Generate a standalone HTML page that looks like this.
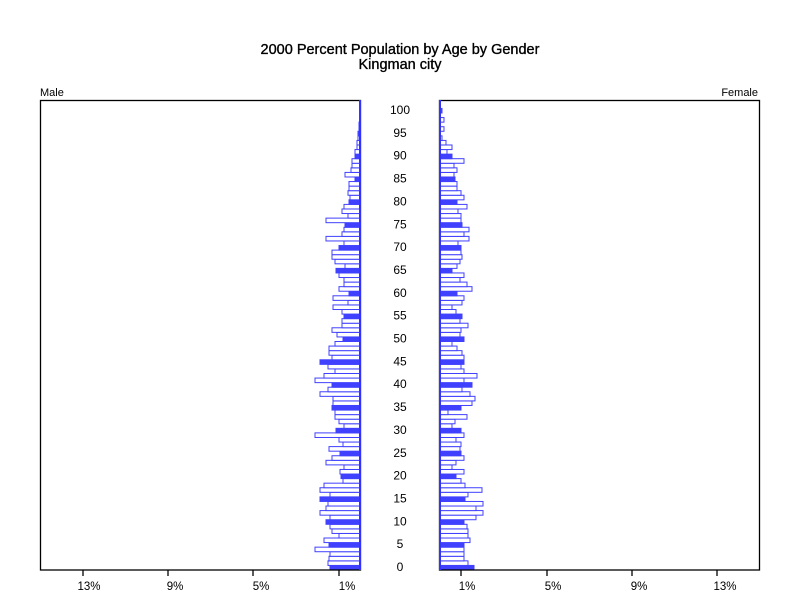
<!DOCTYPE html>
<html><head><meta charset="utf-8"><style>
html,body{margin:0;padding:0;background:#fff;}
svg{display:block;font-family:"Liberation Sans",sans-serif;}
</style></head><body>
<svg id="s" width="800" height="600" viewBox="0 0 800 600" xmlns="http://www.w3.org/2000/svg">
<rect width="800" height="600" fill="#fff"/>
<text x="400" y="54" text-anchor="middle" font-size="14.5" stroke="#000" stroke-width="0.35">2000 Percent Population by Age by Gender</text>
<text x="400" y="69" text-anchor="middle" font-size="14.5" stroke="#000" stroke-width="0.35">Kingman city</text>
<text x="40" y="96" font-size="11">Male</text>
<text x="758" y="96" text-anchor="end" font-size="11">Female</text>
<g id="bars"></g>
<rect x="40.5" y="100.5" width="320" height="469.5" fill="none" stroke="#000" stroke-width="1.3"/>
<rect x="439.5" y="100.5" width="320" height="469.5" fill="none" stroke="#000" stroke-width="1.3"/>
<line x1="360" y1="100" x2="360" y2="570" stroke="#33f" stroke-width="2"/>
<line x1="440" y1="100" x2="440" y2="570" stroke="#33f" stroke-width="2"/>
<g stroke="#000" stroke-width="1.3">
<line x1="83" y1="570" x2="83" y2="576"/><line x1="168" y1="570" x2="168" y2="576"/>
<line x1="253" y1="570" x2="253" y2="576"/><line x1="339" y1="570" x2="339" y2="576"/>
<line x1="461" y1="570" x2="461" y2="576"/><line x1="547" y1="570" x2="547" y2="576"/>
<line x1="632" y1="570" x2="632" y2="576"/><line x1="717" y1="570" x2="717" y2="576"/>
</g>
<g font-size="11.5" text-anchor="middle">
<text x="89" y="590">13%</text><text x="175" y="590">9%</text><text x="261" y="590">5%</text><text x="347" y="590">1%</text>
<text x="467" y="590">1%</text><text x="553" y="590">5%</text><text x="639" y="590">9%</text><text x="725" y="590">13%</text>
</g>
<g id="ages" font-size="12" text-anchor="middle"></g>
</svg>
<script>
var L=[30,32,31,30,45,31,36,21,28,30,34,30,40,34,32,40,30,40,36,17,19,20,16,34,28,20,31,17,21,45,24,16,21,25,25,28,27,27,40,32,28,45,36,25,32,40,28,31,31,25,17,23,28,18,18,16,18,27,12,27,11,21,16,16,21,24,15,25,28,28,21,16,34,18,16,15,34,12,18,16,11,10,12,11,11,5,15,9,8,8,5,5,3,3,2,2,1,1,0,0,0];
var R=[34,28,24,24,24,24,30,28,28,27,24,36,43,36,43,25,28,42,25,21,16,24,12,16,24,21,20,21,16,24,21,12,15,27,8,21,32,35,30,22,32,24,37,24,21,24,24,22,17,12,24,20,21,28,20,22,16,12,22,24,17,32,27,20,24,12,17,20,22,21,21,18,29,24,29,22,21,21,18,27,17,24,21,17,17,15,14,17,14,24,12,7,12,6,2,0,4,0,4,0,2];
var ns="http://www.w3.org/2000/svg",g=document.getElementById("bars"),h=4.57;
function r(x,y,w,f){if(w<=0)return;var e=document.createElementNS(ns,"rect");e.setAttribute("x",x);e.setAttribute("y",y);e.setAttribute("width",w);e.setAttribute("height",h);e.setAttribute("fill",f?"#4040ff":"#fff");e.setAttribute("stroke","#4040ff");e.setAttribute("stroke-width","1");g.appendChild(e);}
for(var a=0;a<=100;a++){var y=570-h*(a+1);var f=a%5==0;r(360-L[a],y,L[a],f);r(440,y,R[a],f);}
var ag=document.getElementById("ages");
for(var a=0;a<=100;a+=5){var t=document.createElementNS(ns,"text");t.setAttribute("x",400);t.setAttribute("y",571-4.57*a);t.textContent=a;ag.appendChild(t);}
</script>
</body></html>
